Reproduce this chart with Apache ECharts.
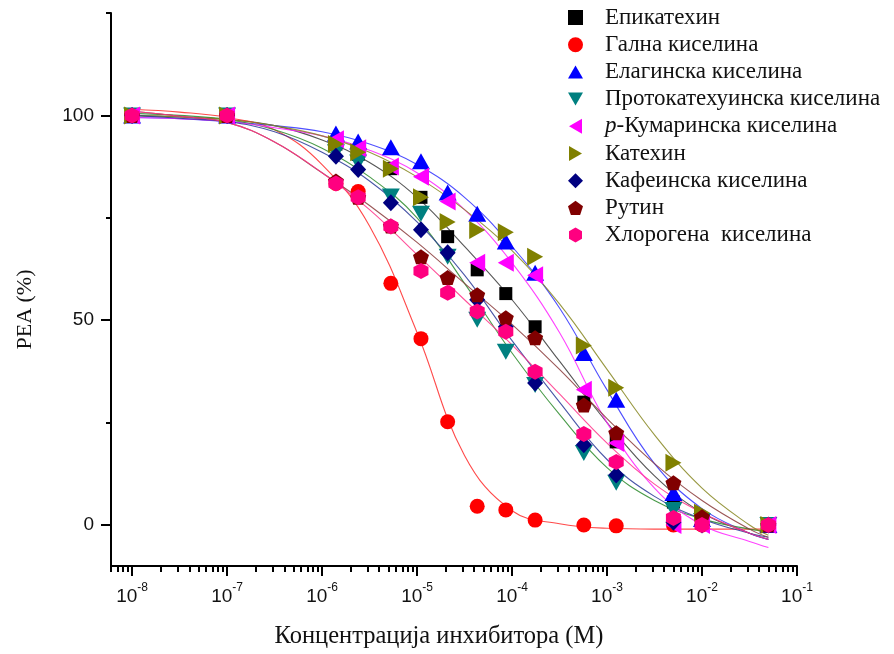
<!DOCTYPE html>
<html>
<head>
<meta charset="utf-8">
<script src="https://cdn.jsdelivr.net/npm/echarts@6/dist/echarts.min.js"></script>
<style>
  html, body { margin: 0; padding: 0; background: #ffffff; }
  #chart { width: 894px; height: 654px; }
</style>
</head>
<body>
<div id="chart"></div>
<script>
// Inhibitor concentrations (M) at which PEA was measured
const concentrations = [1e-8, 1e-7, 1.4e-6, 2.4e-6, 5.3e-6, 1.1e-5, 2.1e-5, 4.3e-5, 8.6e-5, 1.75e-4, 5.7e-4, 1.25e-3, 5e-3, 1e-2, 5e-2];

// Measured PEA (%) per compound
const epicatechin    = [100, 100, 93, 90.5, 87, 80, 70.4, 62.3, 56.5, 48.4, 30, 20.3, 5.6, 0.5, 0];
const gallicAcid     = [100, 100, 83.4, 81.4, 59, 45.5, 25.2, 4.6, 3.7, 1.2, 0, -0.2, 0, 0, 0];
const ellagicAcid    = [100, 100, 95.6, 93.6, 92.2, 88.8, 81.2, 76, 69.2, 61.6, 42, 30.6, 7.8, 1.5, 0];
const protocatechuic = [100, 100, 91, 88.5, 80.2, 76, 65.5, 50.1, 42.3, 34.2, 17.6, 10.3, 3.7, 1, 0];
const coumaricAcid   = [100, 100, 94.2, 92, 87.5, 85, 79, 64, 64, 61, 33, 20, 0, 0, 0];
const catechin       = [100, 100, 93, 91, 87, 80, 74, 72, 71.5, 65.5, 43.8, 33.5, 15.2, 3, 0];
const caffeicAcid    = [100, 100, 90, 86.8, 78.7, 72.1, 66.5, 55, 48.4, 34.7, 19.6, 12.2, 0.7, 0, 0];
const rutin          = [100, 100, 84, 80, 73, 65.5, 60.4, 56.2, 50.6, 45.7, 29.3, 22.5, 10.3, 2, 0];
const chlorogenic    = [100, 100, 83.4, 80, 72.9, 62, 56.7, 52.1, 47.2, 37.4, 22.2, 15.4, 1.7, 0, 0];

// Dose-response fit curves, sampled every half decade
const fitConc = [1e-8, 3.16e-8, 1e-7, 3.16e-7, 1e-6, 3.16e-6, 1e-5, 3.16e-5, 1e-4, 3.16e-4, 1e-3, 3.16e-3, 1e-2, 3.16e-2, 5e-2];
const epicatechinFit    = [100, 99.6, 99, 97.5, 94, 88.5, 80, 68, 55, 40, 25, 12, 3, -2, -3.5];
const gallicAcidFit     = [101.5, 100.8, 99.5, 96.5, 88, 73, 47, 17, 3.5, 0.3, -0.8, -1, -1, -1, -1];
const ellagicAcidFit    = [99.5, 99.2, 98.5, 97.5, 96, 93, 88, 80, 68, 53, 33, 15, 4, -2, -3.5];
const protocatechuicFit = [100.5, 100, 99, 96.5, 92, 85, 75, 59, 42, 27, 14, 6, 1.5, -1, -1.5];
const coumaricAcidFit   = [99.5, 99.2, 98.5, 97, 95, 91.5, 86, 77, 64, 47, 25, 9, 0, -4, -5.5];
const catechinFit       = [100, 99.6, 99, 97.5, 95, 91, 85, 77, 67, 54, 38, 22, 9, 0, -2.5];
const caffeicAcidFit    = [100, 99.3, 98.5, 96, 91, 84, 74, 61, 45, 30, 16, 7, 1.5, -2, -3];
const rutinFit          = [101, 99.8, 98.3, 93.5, 86, 78, 69, 59, 49, 38, 26, 15, 6, -1, -3];
const chlorogenicFit    = [101, 99.8, 98.3, 93.5, 86, 77, 66, 55, 44, 32, 20, 10, 3, -2, -3.5];

// Axis ticks
const majorXTicks = [1e-8, 1e-7, 1e-6, 1e-5, 1e-4, 1e-3, 1e-2, 1e-1];
const majorYTicks = [0, 50, 100];
const minorYTicks = [25, 75, 125];

const compoundNames = [
  'Епикатехин', 'Гална киселина', 'Елагинска киселина', 'Протокатехуинска киселина',
  'p-Кумаринска киселина', 'Катехин', 'Кафеинска киселина', 'Рутин', 'Хлорогена  киселина'
];
const compoundValues = [epicatechin, gallicAcid, ellagicAcid, protocatechuic, coumaricAcid, catechin, caffeicAcid, rutin, chlorogenic];
const compoundFits = [epicatechinFit, gallicAcidFit, ellagicAcidFit, protocatechuicFit, coumaricAcidFit, catechinFit, caffeicAcidFit, rutinFit, chlorogenicFit];

// Marker shapes
const TRI_UP = 'path://M5,0 L10,8.66 L0,8.66 Z';
const TRI_DOWN = 'path://M0,0 L10,0 L5,8.66 Z';
const TRI_LEFT = 'path://M0,5 L8.66,0 L8.66,10 Z';
const TRI_RIGHT = 'path://M8.66,5 L0,0 L0,10 Z';
const PENTAGON = 'path://M0,-10 L9.51,-3.09 L5.88,8.09 L-5.88,8.09 L-9.51,-3.09 Z';
const HEXAGON = 'path://M0,-10 L8.66,-5 L8.66,5 L0,10 L-8.66,5 L-8.66,-5 Z';

const styles = [
  { color: '#000000', line: '#3a3a3a', symbol: 'rect',    size: 13 },
  { color: '#ff0000', line: '#ff2a2a', symbol: 'circle',  size: 15 },
  { color: '#0000ff', line: '#3030ff', symbol: TRI_UP,    size: [18, 16] },
  { color: '#008080', line: '#2a8a2a', symbol: TRI_DOWN,  size: [18, 16] },
  { color: '#ff00ff', line: '#ff22ff', symbol: TRI_LEFT,  size: [16, 18] },
  { color: '#808000', line: '#868620', symbol: TRI_RIGHT, size: [16, 18] },
  { color: '#000080', line: '#2a3a99', symbol: 'diamond', size: [16, 17] },
  { color: '#800000', line: '#8a3a3a', symbol: PENTAGON,  size: [16, 15] },
  { color: '#ff0080', line: '#ff3388', symbol: HEXAGON,   size: [15, 16] }
];

const serif = '"Liberation Serif", "Times New Roman", serif';
const sans = '"Liberation Sans", Arial, sans-serif';

const series = [];
compoundNames.forEach((name, i) => {
  series.push({
    name: name + ' (fit)',
    type: 'line',
    data: fitConc.map((x, k) => [x, compoundFits[i][k]]),
    smooth: 0.4,
    showSymbol: false,
    silent: true,
    lineStyle: { color: styles[i].line, width: 1.1, opacity: 0.85 },
    z: 2
  });
});
compoundNames.forEach((name, i) => {
  series.push({
    name: name,
    type: 'scatter',
    data: concentrations.map((x, k) => [x, compoundValues[i][k]]),
    symbol: styles[i].symbol,
    symbolSize: styles[i].size,
    itemStyle: { color: styles[i].color, opacity: 1 },
    z: 3
  });
});

const minorXTicks = [];
for (let d = -9; d <= -2; d++) {
  for (let k = 2; k <= 9; k++) {
    const v = k * Math.pow(10, d);
    if (v >= 6e-9 && v <= 0.1) minorXTicks.push(v);
  }
}

const chart = echarts.init(document.getElementById('chart'), null, { renderer: 'canvas' });
chart.setOption({
  animation: false,
  backgroundColor: '#ffffff',
  grid: { left: 111, right: 97, top: 13, bottom: 88, containLabel: false },
  legend: {
    orient: 'vertical',
    left: 563,
    top: 1,
    itemWidth: 15,
    itemHeight: 15,
    itemGap: 4.2,
    selectedMode: false,
    data: compoundNames.map((n, i) => ({ name: n, icon: typeof styles[i].symbol === 'string' ? styles[i].symbol : 'rect' })),
    formatter: (name) => name.startsWith('p-')
      ? '{g|}{i|p}{t|' + name.slice(1) + '}'
      : '{g|}{t|' + name + '}',
    textStyle: {
      fontFamily: serif,
      fontSize: 23,
      color: '#111111',
      rich: {
        g: { width: 17 },
        t: { fontFamily: serif, fontSize: 23, color: '#111111', lineHeight: 21 },
        i: { fontFamily: serif, fontSize: 23, fontStyle: 'italic', color: '#111111', lineHeight: 21 }
      }
    }
  },
  xAxis: [
    {
      type: 'log',
      logBase: 10,
      min: 6e-9,
      max: 0.1,
      name: 'Концентрација инхибитора (М)',
      nameLocation: 'middle',
      nameGap: 58,
      nameTextStyle: { fontFamily: serif, fontSize: 24.5, color: '#111111', padding: [0, 30, 0, 0] },
      axisLine: { show: true, onZero: false, lineStyle: { color: '#000000', width: 2 } },
      axisTick: { show: true, inside: false, length: 10, customValues: majorXTicks, lineStyle: { color: '#000000', width: 2 } },
      axisLabel: {
        show: true,
        margin: 16,
        customValues: majorXTicks,
        formatter: (v) => '{b|10}{s|' + Math.round(Math.log10(v)) + '}',
        rich: {
          b: { fontFamily: sans, fontSize: 19, color: '#111111', lineHeight: 24, verticalAlign: 'bottom' },
          s: { fontFamily: sans, fontSize: 12, color: '#111111', lineHeight: 12, verticalAlign: 'top' }
        }
      },
      splitLine: { show: false },
      minorTick: { show: false }
    },
    {
      type: 'log',
      logBase: 10,
      min: 6e-9,
      max: 0.1,
      position: 'bottom',
      axisLine: { show: false, onZero: false },
      axisTick: { show: true, inside: false, length: 6, customValues: minorXTicks, lineStyle: { color: '#000000', width: 2 } },
      axisLabel: { show: false },
      splitLine: { show: false }
    }
  ],
  yAxis: [
    {
      type: 'value',
      min: -10,
      max: 125,
      name: 'PEA (%)',
      nameLocation: 'middle',
      nameRotate: 90,
      nameGap: 75,
      nameTextStyle: { fontFamily: serif, fontSize: 22, color: '#111111', padding: [0, 40, 0, 0] },
      axisLine: { show: true, onZero: false, lineStyle: { color: '#000000', width: 2 } },
      axisTick: { show: true, inside: false, length: 10, customValues: majorYTicks, lineStyle: { color: '#000000', width: 2 } },
      axisLabel: { show: true, margin: 17, customValues: majorYTicks, fontFamily: sans, fontSize: 19, color: '#111111' },
      splitLine: { show: false }
    },
    {
      type: 'value',
      min: -10,
      max: 125,
      position: 'left',
      axisLine: { show: false, onZero: false },
      axisTick: { show: true, inside: false, length: 5, customValues: minorYTicks, lineStyle: { color: '#000000', width: 2 } },
      axisLabel: { show: false },
      splitLine: { show: false }
    }
  ],
  series: series
});
</script>
</body>
</html>
